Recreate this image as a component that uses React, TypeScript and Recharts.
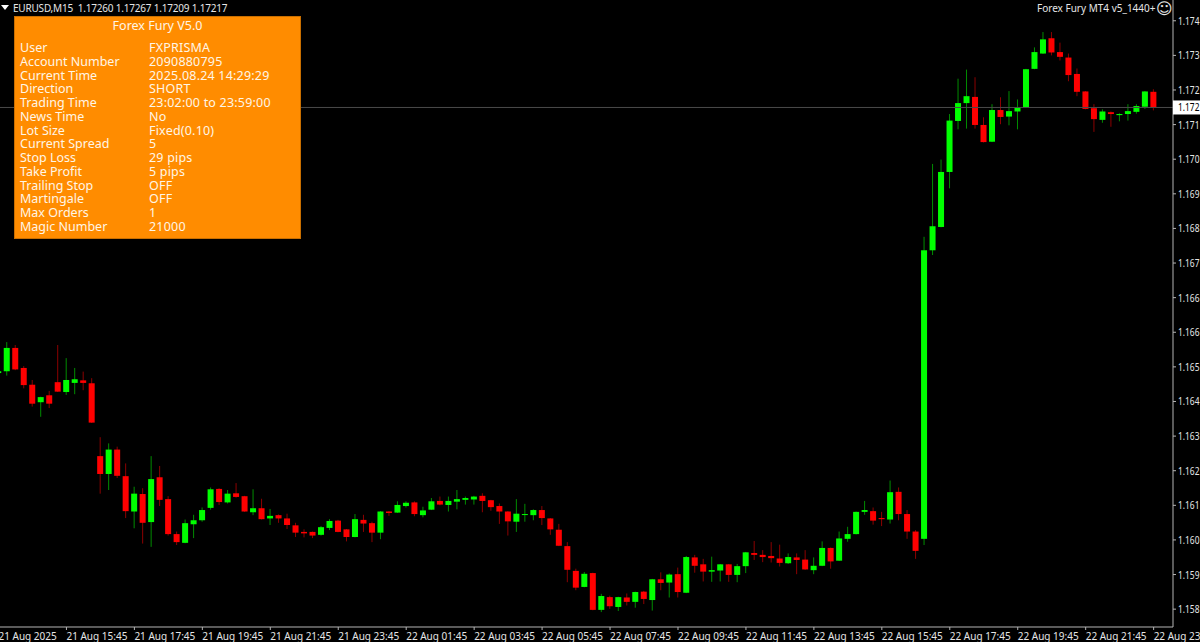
import { ComposedChart, Bar, XAxis, YAxis, ReferenceLine } from "recharts";

const opens = [
  1.16488, 1.16493, 1.16557, 1.16502, 1.16456, 1.16408, 1.16427, 1.16463, 1.16436, 1.16461, 1.16468, 1.16460,
  1.16260, 1.16211, 1.16278, 1.16205, 1.16108, 1.16156, 1.16079, 1.16202, 1.16142, 1.16046, 1.16022, 1.16073,
  1.16084, 1.16118, 1.16170, 1.16133, 1.16158, 1.16150, 1.16106, 1.16117, 1.16089, 1.16098, 1.16089, 1.16070,
  1.16052, 1.16052, 1.16044, 1.16063, 1.16083, 1.16059, 1.16038, 1.16085, 1.16076, 1.16050, 1.16108, 1.16105,
  1.16123, 1.16133, 1.16098, 1.16113, 1.16137, 1.16126, 1.16135, 1.16140, 1.16141, 1.16151, 1.16139, 1.16123,
  1.16108, 1.16080, 1.16099, 1.16098, 1.16112, 1.16089, 1.16058, 1.16013, 1.15945, 1.15901, 1.15939, 1.15838,
  1.15873, 1.15846, 1.15872, 1.15860, 1.15888, 1.15865, 1.15922, 1.15913, 1.15936, 1.15885, 1.15982, 1.15963,
  1.15943, 1.15946, 1.15963, 1.15934, 1.15958, 1.15994, 1.15989, 1.15986, 1.15979, 1.15966, 1.15982, 1.15976,
  1.15947, 1.15959, 1.16008, 1.15973, 1.16033, 1.16046, 1.16107, 1.16109, 1.16090, 1.16086, 1.16162, 1.16101,
  1.16053, 1.16033, 1.16825, 1.16889, 1.17040, 1.17180, 1.17229, 1.17246, 1.17169, 1.17123, 1.17210, 1.17192,
  1.17206, 1.17218, 1.17323, 1.17365, 1.17407, 1.17369, 1.17354, 1.17309, 1.17261, 1.17215, 1.17183, 1.17204,
  1.17196, 1.17199, 1.17205, 1.17219, 1.17260,
];

const highs = [
  1.16495, 1.16573, 1.16565, 1.16507, 1.16469, 1.16423, 1.16439, 1.16565, 1.16529, 1.16502, 1.16492, 1.16474,
  1.16312, 1.16295, 1.16286, 1.16240, 1.16176, 1.16172, 1.16260, 1.16233, 1.16150, 1.16053, 1.16086, 1.16099,
  1.16119, 1.16174, 1.16172, 1.16167, 1.16186, 1.16151, 1.16169, 1.16143, 1.16115, 1.16100, 1.16102, 1.16077,
  1.16059, 1.16053, 1.16068, 1.16087, 1.16085, 1.16060, 1.16101, 1.16099, 1.16080, 1.16109, 1.16109, 1.16136,
  1.16136, 1.16136, 1.16121, 1.16145, 1.16149, 1.16149, 1.16167, 1.16149, 1.16151, 1.16158, 1.16140, 1.16130,
  1.16109, 1.16142, 1.16129, 1.16114, 1.16123, 1.16090, 1.16074, 1.16024, 1.15951, 1.15942, 1.15940, 1.15882,
  1.15877, 1.15874, 1.15883, 1.15888, 1.15890, 1.15923, 1.15941, 1.15938, 1.15954, 1.15986, 1.15989, 1.15978,
  1.15984, 1.15964, 1.15964, 1.15964, 1.15997, 1.16027, 1.16002, 1.16024, 1.16017, 1.15993, 1.15993, 1.16002,
  1.15982, 1.16026, 1.16009, 1.16053, 1.16066, 1.16108, 1.16137, 1.16119, 1.16107, 1.16193, 1.16174, 1.16112,
  1.16057, 1.16862, 1.17062, 1.17074, 1.17199, 1.17296, 1.17321, 1.17300, 1.17190, 1.17226, 1.17245, 1.17262,
  1.17239, 1.17323, 1.17382, 1.17424, 1.17424, 1.17395, 1.17365, 1.17324, 1.17262, 1.17226, 1.17212, 1.17206,
  1.17201, 1.17226, 1.17226, 1.17262, 1.17267,
];

const lows = [
  1.16486, 1.16481, 1.16496, 1.16446, 1.16396, 1.16368, 1.16392, 1.16436, 1.16428, 1.16430, 1.16441, 1.16351,
  1.16157, 1.16167, 1.16200, 1.16090, 1.16062, 1.16020, 1.16011, 1.16123, 1.16042, 1.16016, 1.16021, 1.16035,
  1.16080, 1.16113, 1.16126, 1.16130, 1.16146, 1.16107, 1.16098, 1.16086, 1.16071, 1.16077, 1.16060, 1.16038,
  1.16037, 1.16035, 1.16042, 1.16057, 1.16051, 1.16026, 1.16037, 1.16052, 1.16024, 1.16032, 1.16096, 1.16104,
  1.16119, 1.16095, 1.16092, 1.16112, 1.16125, 1.16108, 1.16114, 1.16127, 1.16127, 1.16106, 1.16110, 1.16074,
  1.16042, 1.16052, 1.16080, 1.16084, 1.16071, 1.16044, 1.16013, 1.15914, 1.15892, 1.15900, 1.15837, 1.15832,
  1.15841, 1.15835, 1.15850, 1.15844, 1.15854, 1.15836, 1.15892, 1.15872, 1.15872, 1.15884, 1.15940, 1.15916,
  1.15915, 1.15916, 1.15915, 1.15914, 1.15939, 1.15975, 1.15969, 1.15968, 1.15957, 1.15964, 1.15936, 1.15948,
  1.15936, 1.15958, 1.15951, 1.15972, 1.16025, 1.16045, 1.16099, 1.16072, 1.16068, 1.16075, 1.16084, 1.16033,
  1.15978, 1.16016, 1.16812, 1.16888, 1.16995, 1.17157, 1.17159, 1.17159, 1.17121, 1.17122, 1.17171, 1.17168,
  1.17157, 1.17217, 1.17322, 1.17364, 1.17360, 1.17346, 1.17289, 1.17248, 1.17212, 1.17150, 1.17175, 1.17164,
  1.17179, 1.17181, 1.17200, 1.17213, 1.17209,
];

const closes = [
  1.16493, 1.16557, 1.16498, 1.16455, 1.16404, 1.16422, 1.16404, 1.16437, 1.16469, 1.16471, 1.16461, 1.16352,
  1.16211, 1.16278, 1.16206, 1.16109, 1.16157, 1.16077, 1.16197, 1.16140, 1.16046, 1.16024, 1.16076, 1.16084,
  1.16112, 1.16169, 1.16134, 1.16157, 1.16148, 1.16108, 1.16117, 1.16087, 1.16096, 1.16089, 1.16071, 1.16050,
  1.16048, 1.16042, 1.16065, 1.16082, 1.16052, 1.16038, 1.16087, 1.16075, 1.16050, 1.16108, 1.16104, 1.16126,
  1.16132, 1.16101, 1.16111, 1.16136, 1.16127, 1.16137, 1.16142, 1.16145, 1.16149, 1.16137, 1.16120, 1.16108,
  1.16081, 1.16102, 1.16101, 1.16112, 1.16090, 1.16059, 1.16014, 1.15948, 1.15899, 1.15937, 1.15838, 1.15876,
  1.15848, 1.15873, 1.15860, 1.15887, 1.15868, 1.15922, 1.15912, 1.15935, 1.15887, 1.15983, 1.15959, 1.15943,
  1.15947, 1.15963, 1.15934, 1.15958, 1.15996, 1.15989, 1.15983, 1.15980, 1.15967, 1.15983, 1.15975, 1.15949,
  1.15959, 1.16008, 1.15971, 1.16034, 1.16046, 1.16107, 1.16112, 1.16083, 1.16087, 1.16161, 1.16101, 1.16053,
  1.16000, 1.16825, 1.16891, 1.17040, 1.17181, 1.17229, 1.17248, 1.17169, 1.17122, 1.17210, 1.17191, 1.17207,
  1.17217, 1.17322, 1.17369, 1.17404, 1.17368, 1.17356, 1.17306, 1.17260, 1.17213, 1.17185, 1.17206, 1.17199,
  1.17199, 1.17207, 1.17221, 1.17261, 1.17217,
];

const bidPrice = 1.17217;

// the screenshot cuts the price scale at the window edge, so only 3 decimals are readable
const yTicks = [
  1.17455, 1.1736, 1.17265, 1.1717, 1.17075, 1.1698, 1.16885, 1.1679, 1.16695, 1.166, 1.16505, 1.1641, 1.16315,
  1.1622, 1.16125, 1.1603, 1.15935, 1.1584,
];
const yTickLabels = [
  "1.174", "1.173", "1.172", "1.171", "1.170", "1.169", "1.168", "1.167", "1.166", "1.166", "1.165", "1.164",
  "1.163", "1.162", "1.161", "1.160", "1.159", "1.158",
];

const xTickBars = [0, 8, 16, 24, 32, 40, 48, 56, 64, 72, 80, 88, 96, 104, 112, 120, 128, 136];
const xTickLabels = [
  "21 Aug 2025", "21 Aug 15:45", "21 Aug 17:45", "21 Aug 19:45", "21 Aug 21:45", "21 Aug 23:45",
  "22 Aug 01:45", "22 Aug 03:45", "22 Aug 05:45", "22 Aug 07:45", "22 Aug 09:45", "22 Aug 11:45",
  "22 Aug 13:45", "22 Aug 15:45", "22 Aug 17:45", "22 Aug 19:45", "22 Aug 21:45", "22 Aug 23:45",
];

const panelLabels = [
  "User", "Account Number", "Current Time", "Direction", "Trading Time", "News Time", "Lot Size",
  "Current Spread", "Stop Loss", "Take Profit", "Trailing Stop", "Martingale", "Max Orders", "Magic Number",
];
const panelValues = [
  "FXPRISMA", "2090880795", "2025.08.24 14:29:29", "SHORT", "23:02:00 to 23:59:00", "No", "Fixed(0.10)",
  "5", "29 pips", "5 pips", "OFF", "OFF", "1", "21000",
];

const data = opens.map((open, i) => ({ bar: i, open, high: highs[i], low: lows[i], close: closes[i] }));

const FONT = "'Noto Sans', sans-serif";
const AXIS = "#b4b4b4";

function Candle(props: any) {
  const { x, y, width, height, payload } = props;
  const { open, high, low, close } = payload;
  const perUnit = height / (high - low);
  const up = close >= open;
  const top = y + (high - Math.max(open, close)) * perUnit;
  const bodyH = Math.max(Math.abs(open - close) * perUnit, 1);
  const mid = x + width / 2;
  return (
    <g>
      <line x1={mid} x2={mid} y1={y} y2={y + height} stroke={up ? "#008c00" : "#8c0000"} strokeWidth={1} />
      <rect x={x} y={top} width={width} height={bodyH} fill={up ? "#00ff00" : "#ff0000"} />
    </g>
  );
}

function PriceTick(props: any) {
  const { x, y, payload } = props;
  const isBid = payload.value === bidPrice;
  const label = isBid ? "1.172" : yTickLabels[yTicks.indexOf(payload.value)];
  return (
    <g>
      {isBid && <rect x={x} y={y - 7} width={28} height={14} fill="#ffffff" />}
      {!isBid && <line x1={x} x2={x + 3} y1={y} y2={y} stroke={AXIS} />}
      <text
        x={x + 5}
        y={y + 4}
        fontSize={10.5}
        fontFamily={FONT}
        textLength={21.5}
        lengthAdjust="spacingAndGlyphs"
        fill={isBid ? "#000000" : "#e6e6e6"}
      >
        {label}
      </text>
    </g>
  );
}

function TimeTick(props: any) {
  const { x, y, payload } = props;
  return (
    <g>
      <line x1={x} x2={x} y1={y} y2={y + 3} stroke={AXIS} />
      <text x={x} y={y + 13} fontSize={10} fontFamily={FONT} fill="#e6e6e6">
        {xTickLabels[xTickBars.indexOf(payload.value)]}
      </text>
    </g>
  );
}

function InfoPanel() {
  const rowStyle = { position: "absolute", whiteSpace: "nowrap", lineHeight: "13px" } as const;
  return (
    <div
      style={{
        position: "absolute",
        left: 14,
        top: 16,
        width: 285,
        height: 221,
        background: "#ff8c00",
        border: "1px solid #c96f00",
        color: "#fff6e6",
        fontFamily: FONT,
        fontSize: 12.5,
      }}
    >
      <div style={{ ...rowStyle, left: 0, width: 285, textAlign: "center", top: 2 }}>Forex Fury V5.0</div>
      {panelLabels.map((label, i) => (
        <div key={label}>
          <div style={{ ...rowStyle, left: 5, top: 24 + i * 13.75 }}>{label}</div>
          <div style={{ ...rowStyle, left: 134, top: 24 + i * 13.75, letterSpacing: 0.2 }}>{panelValues[i]}</div>
        </div>
      ))}
    </div>
  );
}

export default function App() {
  return (
    <div style={{ position: "absolute", left: 0, top: 0, width: 1200, height: 642, background: "#000", overflow: "hidden" }}>
      <ComposedChart width={1200} height={642} data={data} margin={{ top: 0, right: 0, bottom: 0, left: 0 }}>
        <XAxis
          type="number"
          dataKey="bar"
          domain={[0.177, 138.28]}
          allowDataOverflow
          ticks={xTickBars}
          interval={0}
          tick={TimeTick}
          tickLine={false}
          tickSize={0}
          tickMargin={0}
          height={15}
          axisLine={{ stroke: AXIS }}
        />
        <YAxis
          orientation="right"
          domain={[1.15791, 1.17512]}
          ticks={[...yTicks, bidPrice]}
          interval={0}
          tick={PriceTick}
          tickLine={false}
          tickSize={0}
          tickMargin={0}
          width={27}
          axisLine={{ stroke: AXIS }}
        />
        <ReferenceLine y={bidPrice} stroke="#4a4a4a" />
        <Bar dataKey={(d: any) => [d.low, d.high]} barSize={6} shape={Candle} isAnimationActive={false} />
      </ComposedChart>

      <div style={{ position: "absolute", left: 1, top: 5, width: 0, height: 0, borderLeft: "4px solid transparent", borderRight: "4px solid transparent", borderTop: "5px solid #fff" }} />
      <div style={{ position: "absolute", left: 13, top: 1, color: "#e6e6e6", font: `10px/15px ${FONT}`, letterSpacing: -0.2, whiteSpace: "pre" }}>
        EURUSD,M15  1.17260 1.17267 1.17209 1.17217
      </div>
      <div style={{ position: "absolute", left: 1037, top: 1, color: "#e6e6e6", font: `10px/15px ${FONT}`, whiteSpace: "pre" }}>
        Forex Fury MT4 v5_1440+
      </div>
      <div style={{ position: "absolute", left: 1156, top: -1, color: "#e6e6e6", font: "16px/20px 'DejaVu Sans'" }}>☺</div>
      <InfoPanel />
    </div>
  );
}
